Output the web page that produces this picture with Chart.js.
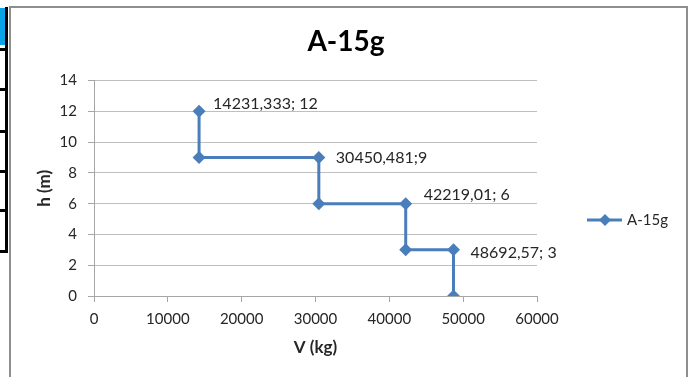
<!DOCTYPE html>
<html lang="pt">
<head>
    <meta charset="UTF-8">
    <title>A-15g</title>
    <script src="https://cdn.jsdelivr.net/npm/chart.js"></script>
    <style>
        body { margin: 0; background: #ffffff; }
        .wrap { position: relative; width: 692px; height: 377px; overflow: hidden; }
        .frame {
            position: absolute; left: 9px; top: 6px; width: 675px; height: 380px;
            border: 2px solid #8e8e8e; border-bottom: none;
        }
        .blue { position: absolute; left: 0; top: 8px; width: 5px; height: 37px; background: #0aa3e8; }
        .bar { position: absolute; left: 5px; top: 7px; width: 3px; height: 246px; background: #000; }
        .hline { position: absolute; left: 0; width: 8px; height: 3px; background: #000; }
        canvas { position: absolute; left: 0; top: 0; }
    </style>
</head>
<body>
<div class="wrap">
    <div class="frame"></div>
    <div class="blue"></div>
    <div class="bar"></div>
    <div class="hline" style="top:48px"></div>
    <div class="hline" style="top:88px"></div>
    <div class="hline" style="top:130px"></div>
    <div class="hline" style="top:170px"></div>
    <div class="hline" style="top:209px"></div>
    <div class="hline" style="top:250px"></div>
    <canvas id="chart" width="692" height="377"></canvas>
</div>

<script>
    // dados
    var seriesName = 'A-15g';
    var volumes = [14231.333, 14231.333, 30450.481, 30450.481, 42219.01, 42219.01, 48692.57, 48692.57];
    var heights = [12, 9, 9, 6, 6, 3, 3, 0];
    var pointLabels = ['14231,333; 12', '', '30450,481;9', '', '42219,01; 6', '', '48692,57; 3', ''];
    var xTicks = [0, 10000, 20000, 30000, 40000, 50000, 60000];
    var yTicks = [0, 2, 4, 6, 8, 10, 12, 14];

    var blue = '#4a7ebb';
    var labelFont = '16px Lato';

    var points = volumes.map(function (v, i) { return { x: v, y: heights[i] }; });

    // rótulos ao lado dos pontos
    var labelOffsets = [[14, -8], null, [17, 0], null, [18, -9], null, [17, 3], null];
    var pointLabelPlugin = {
        id: 'pointLabels',
        afterDatasetsDraw: function (chart) {
            var ctx = chart.ctx;
            var meta = chart.getDatasetMeta(0);
            ctx.save();
            ctx.font = labelFont;
            ctx.fillStyle = '#262626';
            ctx.textAlign = 'left';
            ctx.textBaseline = 'middle';
            meta.data.forEach(function (el, i) {
                if (!pointLabels[i]) return;
                var off = labelOffsets[i];
                ctx.fillText(pointLabels[i], el.x + off[0], el.y + off[1]);
            });
            ctx.restore();
        }
    };

    // legenda no estilo do Excel (linha + losango)
    var legendPlugin = {
        id: 'excelLegend',
        afterDraw: function (chart) {
            var ctx = chart.ctx;
            var y = 220;
            ctx.save();
            ctx.strokeStyle = blue;
            ctx.lineWidth = 3;
            ctx.beginPath();
            ctx.moveTo(587, y);
            ctx.lineTo(622, y);
            ctx.stroke();
            ctx.fillStyle = blue;
            ctx.beginPath();
            ctx.moveTo(605 - 6, y);
            ctx.lineTo(605, y - 6);
            ctx.lineTo(605 + 6, y);
            ctx.lineTo(605, y + 6);
            ctx.closePath();
            ctx.fill();
            ctx.font = '15px Lato';
            ctx.fillStyle = '#262626';
            ctx.textBaseline = 'middle';
            ctx.fillText(seriesName, 627, y);
            ctx.restore();
        }
    };

    var ctx = document.getElementById('chart').getContext('2d');
    var chart = new Chart(ctx, {
        type: 'scatter',
        data: {
            datasets: [{
                label: seriesName,
                data: points,
                showLine: true,
                borderColor: blue,
                backgroundColor: blue,
                borderWidth: 3,
                pointStyle: 'rectRot',
                pointRadius: 6.5,
                pointBorderWidth: 0,
                pointBackgroundColor: blue,
                tension: 0
            }]
        },
        options: {
            responsive: false,
            animation: false,
            devicePixelRatio: 1,
            layout: { padding: 0 },
            plugins: {
                legend: { display: false },
                tooltip: { enabled: false },
                title: {
                    display: true,
                    text: seriesName,
                    color: '#000000',
                    font: { family: 'Lato', size: 28, weight: 'bold' },
                    padding: { top: 25, bottom: 22 }
                }
            },
            scales: {
                x: {
                    type: 'linear',
                    min: 0,
                    max: 60000,
                    afterBuildTicks: function (scale) {
                        scale.ticks = xTicks.map(function (v) { return { value: v }; });
                    },
                    afterFit: function (scale) { scale.height = 81; },
                    grid: { drawOnChartArea: false, drawTicks: true, tickLength: 6, color: '#a6a6a6' },
                    border: { color: '#a6a6a6', width: 1 },
                    ticks: {
                        color: '#262626',
                        padding: 8,
                        maxRotation: 0,
                        font: { family: 'Lato', size: 15 },
                        callback: function (v) { return String(v); }
                    },
                    title: {
                        display: true,
                        text: 'V (kg)',
                        color: '#262626',
                        font: { family: 'Lato', size: 17, weight: 'bold' },
                        padding: { top: 0, bottom: 19 }
                    }
                },
                y: {
                    type: 'linear',
                    min: 0,
                    max: 14,
                    afterBuildTicks: function (scale) {
                        scale.ticks = yTicks.map(function (v) { return { value: v }; });
                    },
                    afterFit: function (scale) { scale.width = 94; },
                    grid: { color: '#bfbfbf', tickLength: 6, tickColor: '#a6a6a6' },
                    border: { color: '#a6a6a6', width: 1 },
                    ticks: {
                        color: '#262626',
                        padding: 11,
                        font: { family: 'Lato', size: 15 }
                    },
                    title: {
                        display: true,
                        text: 'h (m)',
                        color: '#262626',
                        font: { family: 'Lato', size: 17, weight: 'bold' },
                        padding: { top: 34, bottom: 0 }
                    }
                },
                // espaço reservado à direita para a legenda
                legendSpace: {
                    type: 'linear',
                    position: 'right',
                    display: true,
                    afterFit: function (scale) { scale.width = 155; },
                    grid: { display: false },
                    border: { display: false },
                    ticks: { display: false }
                }
            }
        },
        plugins: [pointLabelPlugin, legendPlugin]
    });
</script>
</body>
</html>
